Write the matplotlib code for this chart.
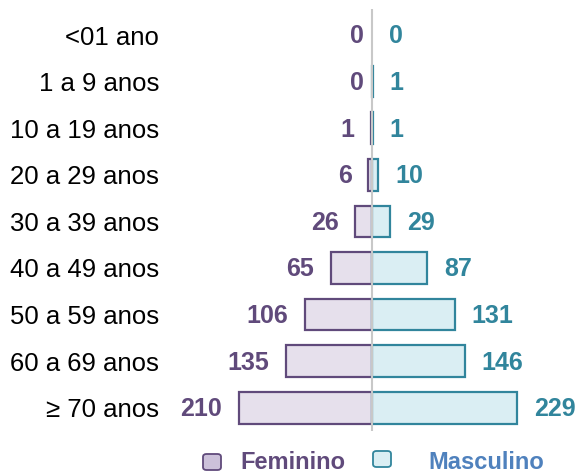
import matplotlib
matplotlib.use("Agg")
import matplotlib.pyplot as plt
from matplotlib.patches import FancyBboxPatch

categories = ["<01 ano", "1 a 9 anos", "10 a 19 anos", "20 a 29 anos", "30 a 39 anos",
              "40 a 49 anos", "50 a 59 anos", "60 a 69 anos", "\u2265 70 anos"]
feminino = [0, 0, 1, 6, 26, 65, 106, 135, 210]
masculino = [0, 1, 1, 10, 29, 87, 131, 146, 229]
series_names = ["Feminino", "Masculino"]

plt.rcParams['font.family'] = ['Liberation Sans', 'DejaVu Sans']

W, H = 577, 475
fig = plt.figure(figsize=(W / 100, H / 100), dpi=100)
left_px, right_px = 180, 577
top_px, bot_px = 9.4, 431
ax = fig.add_axes([left_px / W, 1 - bot_px / H, (right_px - left_px) / W, (bot_px - top_px) / H])

scale = 0.635  # px per unit
ax.set_xlim(-(372 - left_px) / scale, (right_px - 372) / scale)
ax.set_ylim(8.5, -0.55)

f_dark, f_fill = "#604A7B", "#E6E0EC"
m_dark, m_fill = "#31859C", "#DAEEF3"

y = list(range(len(categories)))
ax.barh(y, [-v for v in feminino], height=0.68, color=f_fill, edgecolor=f_dark,
        linewidth=[1.6 if v > 0 else 0 for v in feminino], zorder=2)
ax.barh(y, masculino, height=0.68, color=m_fill, edgecolor=m_dark,
        linewidth=[1.6 if v > 0 else 0 for v in masculino], zorder=2)
ax.axvline(0, color="#C8C8C8", linewidth=1.5, zorder=3)

for yi, v in zip(y, feminino):
    ax.annotate(str(v), (-v, yi), xytext=(-12 if v > 0 else -6, -1), textcoords="offset points",
                ha="right", va="center", fontsize=18, fontweight="bold", color=f_dark)
for yi, v in zip(y, masculino):
    ax.annotate(str(v), (v, yi), xytext=(12, -1), textcoords="offset points",
                ha="left", va="center", fontsize=18, fontweight="bold", color=m_dark)

ax.set_yticks(y)
ax.set_yticklabels(categories, fontsize=18.5, color="black")
ax.tick_params(axis="y", length=0, pad=15)
ax.set_xticks([])
for s in ax.spines.values():
    s.set_visible(False)

# Legend (manual)
def fig_box(x0, y0, w, h, fc, ec):
    p = FancyBboxPatch((x0 / W, 1 - (y0 + h) / H), w / W, h / H,
                       boxstyle="round,pad=0,rounding_size=0.006",
                       transform=fig.transFigure, facecolor=fc, edgecolor=ec, linewidth=1.3)
    fig.patches.append(p)

fig_box(203, 454, 18, 16, "#CCC1DA", f_dark)
fig.text(240 / W, 1 - 474 / H, series_names[0], fontsize=17, fontweight="bold", color=f_dark,
         ha="left", va="bottom")
fig_box(373, 451, 18, 16, m_fill, m_dark)
fig.text(428 / W, 1 - 474 / H, series_names[1], fontsize=17, fontweight="bold", color="#4F81BD",
         ha="left", va="bottom")

fig.savefig("out.png", dpi=100)
